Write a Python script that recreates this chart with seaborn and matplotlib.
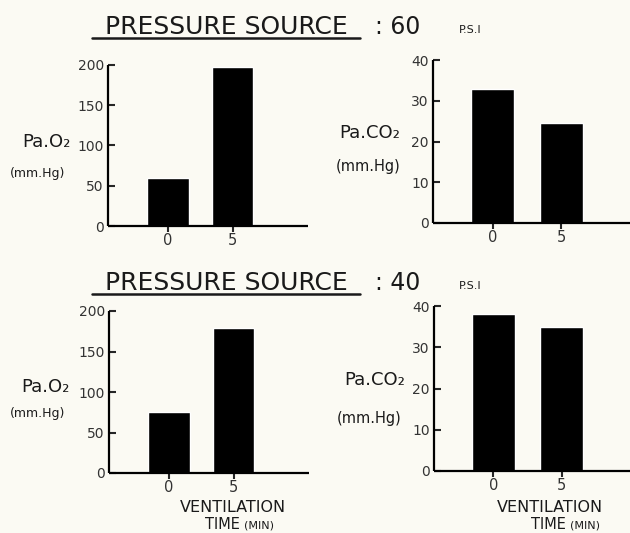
import matplotlib
matplotlib.use("Agg")
import matplotlib.pyplot as plt
from matplotlib.lines import Line2D
import seaborn as sns
import pandas as pd

sns.set_style("ticks")
plt.rcParams["font.family"] = ["DejaVu Sans"]

# ---------------- data ----------------
times = ["0", "5"]
pao2_60 = [60, 198]
paco2_60 = [33, 24.5]
pao2_40 = [75, 179]
paco2_40 = [38, 35]
pao2_ticks = [0, 50, 100, 150, 200]
paco2_ticks = [0, 10, 20, 30, 40]

W, H = 630, 533
BG = "#fbfaf3"
INK = "#1a1a1a"

fig = plt.figure(figsize=(W / 100, H / 100), dpi=100, facecolor=BG)


def box(x0, y_top, x1, y_bot):
    # pixel box -> figure fraction rect
    return [x0 / W, 1 - y_bot / H, (x1 - x0) / W, (y_bot - y_top) / H]


def ftext(x, y, s, **kw):
    kw.setdefault("color", INK)
    return fig.text(x / W, 1 - y / H, s, **kw)


def bar_panel(rect, values, ticks, xlim, width):
    ax = fig.add_axes(rect)
    ax.set_facecolor("none")
    df = pd.DataFrame({"time": times, "value": values})
    sns.barplot(data=df, x="time", y="value", color="black", saturation=1,
                width=width, ax=ax)
    ax.set_ylim(0, ticks[-1])
    ax.set_xlim(*xlim)
    ax.set_yticks(ticks)
    ax.set_yticklabels([str(t) for t in ticks])
    ax.set_xlabel("")
    ax.set_ylabel("")
    sns.despine(ax=ax)
    for s in ["left", "bottom"]:
        ax.spines[s].set_linewidth(1.6)
        ax.spines[s].set_color("black")
        ax.spines[s].set_capstyle("butt")
    ax.tick_params(axis="y", direction="in", length=5, width=1.5, pad=3,
                   labelsize=10, labelcolor="#333333")
    ax.tick_params(axis="x", direction="out", length=4, width=1.5, pad=1,
                   labelsize=10.5, labelcolor="#333333")
    return ax


# panels
bar_panel(box(108, 65, 308, 226), pao2_60, pao2_ticks, (-0.93, 2.17), 0.65)
bar_panel(box(433, 60, 630, 223), paco2_60, paco2_ticks, (-0.87, 2.0), 0.63)
bar_panel(box(109, 311, 309, 473), pao2_40, pao2_ticks, (-0.93, 2.17), 0.65)
bar_panel(box(434, 306, 630, 471), paco2_40, paco2_ticks, (-0.87, 2.0), 0.63)

# titles: underlined "PRESSURE SOURCE", then ": 60 P.S.I"
for base, psi in [(34, "60"), (290, "40")]:
    ftext(226, base, "PRESSURE SOURCE", fontsize=18, ha="center", va="baseline")
    ftext(375, base, ": " + psi, fontsize=17, ha="left", va="baseline")
    ftext(470, base - 1, "P.S.I", fontsize=8, ha="center", va="baseline")
    yl = 1 - (base + 4) / H
    fig.add_artist(Line2D([92 / W, 360 / W], [yl, yl], lw=1.8, color=INK))

# y labels
ftext(46, 147, "Pa.O₂", fontsize=13, ha="center", va="baseline")
ftext(38, 173, "(mm.Hg)", fontsize=9, ha="center", va="center")
ftext(45, 392, "Pa.O₂", fontsize=13, ha="center", va="baseline")
ftext(38, 414, "(mm.Hg)", fontsize=9, ha="center", va="center")
ftext(370, 138, "Pa.CO₂", fontsize=13, ha="center", va="baseline")
ftext(368, 167, "(mm.Hg)", fontsize=10.5, ha="center", va="center")
ftext(375, 385, "Pa.CO₂", fontsize=13, ha="center", va="baseline")
ftext(369, 418, "(mm.Hg)", fontsize=10.5, ha="center", va="center")

# x labels
for cx, tx in [(233, 240), (550, 566)]:
    ftext(cx, 512, "VENTILATION", fontsize=11.5, ha="center", va="baseline")
    ftext(tx, 529, "TIME", fontsize=10.5, ha="right", va="baseline")
    ftext(tx + 4, 529, "(MIN)", fontsize=8, ha="left", va="baseline")

fig.savefig("out.png", dpi=100, facecolor=BG)
